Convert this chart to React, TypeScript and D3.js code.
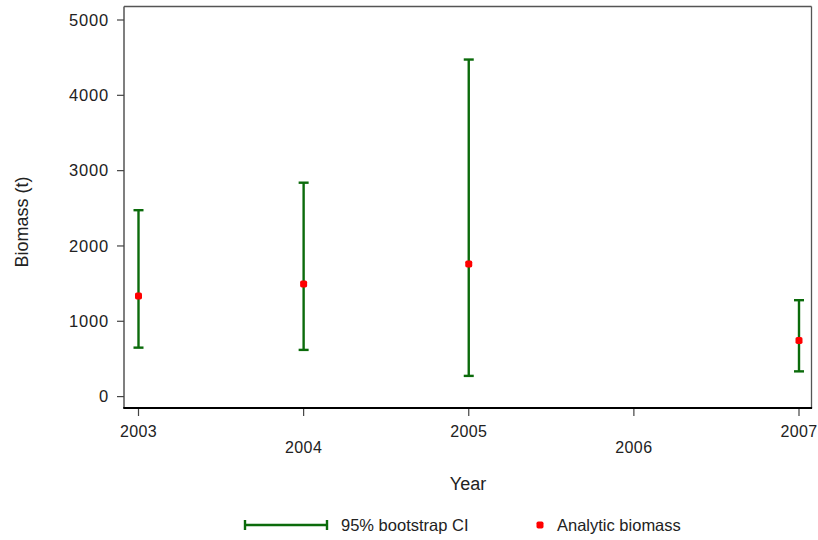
import React from "react";
import * as d3 from "d3";

const years = [2003, 2004, 2005, 2007];
const lowerCI = [650, 620, 275, 335];
const upperCI = [2475, 2840, 4475, 1280];
const analytic = [1335, 1495, 1760, 745];
const xTicks = [2003, 2004, 2005, 2006, 2007];
const yTicks = [0, 1000, 2000, 3000, 4000, 5000];

const W = 818;
const H = 540;
const plotLeft = 124;
const plotRight = 811.5;
const plotTop = 6.5;
const plotBottom = 408;
const green = "#0b6b0b";
const font = "Arial, 'Liberation Sans', sans-serif";

export default function App() {
  const x = d3.scaleLinear().domain([2003, 2007]).range([138.5, 799]);
  const y = d3.scaleLinear().domain([0, 5000]).range([396.6, 20]);
  const cap = 5;
  return (
    <svg
      width={W}
      height={H}
      style={{ position: "absolute", left: 0, top: 0, background: "#fff" }}
      fontFamily={font}
    >
      {/* frame */}
      <line x1={plotLeft} x2={plotRight} y1={plotTop} y2={plotTop} stroke="#555" strokeWidth={1.3} />
      <line x1={plotRight} x2={plotRight} y1={plotTop} y2={plotBottom} stroke="#555" strokeWidth={1.3} />
      <line x1={plotLeft} x2={plotLeft} y1={plotTop} y2={plotBottom} stroke="#555" strokeWidth={1.5} />
      <line x1={plotLeft - 0.75} x2={plotRight + 0.6} y1={plotBottom} y2={plotBottom} stroke="#000" strokeWidth={2.2} />

      {/* y ticks */}
      {yTicks.map((t) => (
        <g key={t}>
          <line x1={plotLeft - 7} x2={plotLeft} y1={y(t)} y2={y(t)} stroke="#444" strokeWidth={1.2} />
          <text x={109} y={y(t)} dy="0.35em" textAnchor="end" fontSize={16.5} letterSpacing={0.8} fill="#222">
            {t}
          </text>
        </g>
      ))}

      {/* x ticks */}
      {xTicks.map((t, i) => (
        <g key={t}>
          <line x1={x(t)} x2={x(t)} y1={plotBottom + 1} y2={plotBottom + 8} stroke="#444" strokeWidth={1.2} />
          <text
            x={x(t)}
            y={i % 2 === 0 ? 431 : 447}
            dy="0.35em"
            textAnchor="middle"
            fontSize={16}
            letterSpacing={0.4}
            fill="#222"
          >
            {t}
          </text>
        </g>
      ))}

      {/* axis titles */}
      <text x={468} y={484} dy="0.35em" textAnchor="middle" fontSize={18} fill="#222">
        Year
      </text>
      <text
        transform={`translate(22,222) rotate(-90)`}
        dy="0.35em"
        textAnchor="middle"
        fontSize={18}
        fill="#222"
      >
        Biomass (t)
      </text>

      {/* CI bars */}
      {years.map((yr, i) => (
        <g key={yr} stroke={green} strokeWidth={2.4}>
          <line x1={x(yr)} x2={x(yr)} y1={y(lowerCI[i])} y2={y(upperCI[i])} />
          <line x1={x(yr) - cap} x2={x(yr) + cap} y1={y(lowerCI[i])} y2={y(lowerCI[i])} />
          <line x1={x(yr) - cap} x2={x(yr) + cap} y1={y(upperCI[i])} y2={y(upperCI[i])} />
        </g>
      ))}

      {/* points */}
      {years.map((yr, i) => (
        <rect
          key={yr}
          x={x(yr) - 3.5}
          y={y(analytic[i]) - 3.5}
          width={7}
          height={7}
          rx={1.8}
          fill="#ff0000"
        />
      ))}

      {/* legend */}
      <g stroke={green} strokeWidth={2.4}>
        <line x1={245} x2={327} y1={525} y2={525} />
        <line x1={245} x2={245} y1={520} y2={530} />
        <line x1={327} x2={327} y1={520} y2={530} />
      </g>
      <text x={341} y={525} dy="0.35em" fontSize={16.5} fill="#222">
        95% bootstrap CI
      </text>
      <rect x={536.5} y={521.5} width={7} height={7} rx={1.8} fill="#ff0000" />
      <text x={557} y={525} dy="0.35em" fontSize={16.5} fill="#222">
        Analytic biomass
      </text>
    </svg>
  );
}
